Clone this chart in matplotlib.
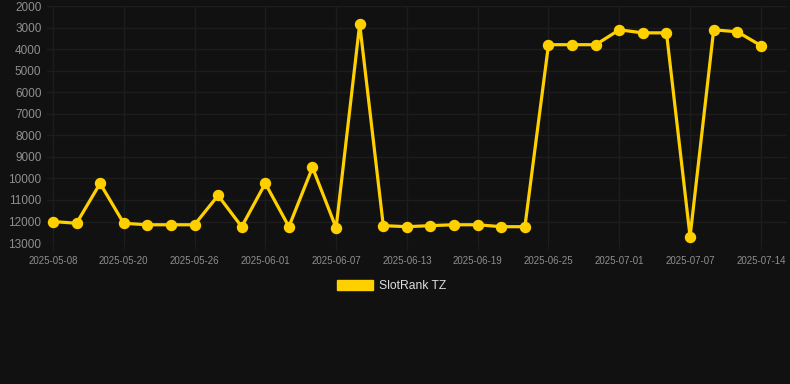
import matplotlib
matplotlib.use("Agg")
import matplotlib.pyplot as plt
from matplotlib.patches import Patch

# Category axis: one point per observation, labels on every third one
dates = ["2025-05-08", "2025-05-12", "2025-05-16", "2025-05-20", "2025-05-22",
         "2025-05-24", "2025-05-26", "2025-05-28", "2025-05-30", "2025-06-01",
         "2025-06-03", "2025-06-05", "2025-06-07", "2025-06-09", "2025-06-11",
         "2025-06-13", "2025-06-15", "2025-06-17", "2025-06-19", "2025-06-21",
         "2025-06-23", "2025-06-25", "2025-06-27", "2025-06-29", "2025-07-01",
         "2025-07-03", "2025-07-05", "2025-07-07", "2025-07-09", "2025-07-11",
         "2025-07-14"]
rank = [12000, 12080, 10230, 12080, 12150, 12150, 12150, 10790, 12240, 10230,
        12240, 9490, 12290, 2830, 12190, 12240, 12190, 12150, 12150, 12240,
        12240, 3790, 3790, 3790, 3100, 3240, 3240, 12700, 3100, 3190, 3830]
y_ticks = [2000, 3000, 4000, 5000, 6000, 7000, 8000, 9000, 10000, 11000, 12000, 13000]
series_name = "SlotRank TZ"

BG = "#111111"
GOLD = "#FFD000"
GRID = "#1d1d1d"
TICK_TXT = "#8f8f8f"

plt.rcParams['font.family'] = ['Liberation Sans', 'DejaVu Sans']

fig = plt.figure(figsize=(7.9, 3.84), dpi=100, facecolor=BG)
ax = fig.add_axes([0.0595, 0.367, 0.9365, 0.617])
ax.set_facecolor(BG)

xs = list(range(len(rank)))
ax.plot(xs, rank, color=GOLD, linewidth=2.3, marker='o', markersize=7.2,
        solid_joinstyle='miter', clip_on=False, zorder=3)

ax.set_ylim(13000, 2000)
ax.set_yticks(y_ticks)
ax.set_yticklabels([str(v) for v in y_ticks])
ax.set_xlim(-0.25, 31.1)
tick_idx = list(range(0, len(dates), 3))
ax.set_xticks(tick_idx)
ax.set_xticklabels([dates[i] for i in tick_idx])

ax.grid(True, color=GRID, linewidth=1)
ax.set_axisbelow(True)
for s in ax.spines.values():
    s.set_visible(False)
ax.tick_params(axis='y', colors=GRID, labelcolor=TICK_TXT, labelsize=8.5, length=0, pad=4)
ax.tick_params(axis='x', colors=GRID, labelcolor=TICK_TXT, labelsize=7, length=5, pad=4)

handle = Patch(facecolor=GOLD, edgecolor=GOLD)
fig.legend([handle], [series_name], loc='center', bbox_to_anchor=(0.496, 0.255),
           frameon=False, fontsize=8.7, labelcolor="#dddddd",
           handlelength=3.0, handleheight=0.9, handletextpad=0.5)

fig.savefig("out.png", dpi=100, facecolor=BG)
